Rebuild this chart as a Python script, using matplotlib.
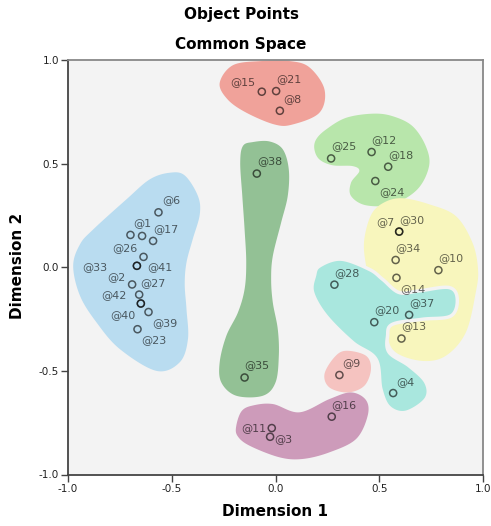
import numpy as np
import matplotlib
matplotlib.use("Agg")
import matplotlib.pyplot as plt
from matplotlib.patches import Polygon

plt.rcParams['axes.unicode_minus'] = False
plt.rcParams['font.family'] = ['DejaVu Sans']

# ---------------- data ----------------
labels = ['@15', '@21', '@8', '@38', '@35', '@25', '@12', '@18', '@24',
          '@30', '@7', '@34', '@10', '@14', '@13', '@28', '@20', '@37', '@4',
          '@9', '@16', '@11', '@3',
          '@6', '@1', '', '@17', '@26', '@33', '@41', '@2', '@27', '@42', '@40',
          '@39', '@23']
dim1 = [-0.066, 0.003, 0.021, -0.090, -0.149, 0.268, 0.463, 0.543, 0.481,
        0.596, 0.596, 0.579, 0.785, 0.583, 0.607, 0.284, 0.476, 0.644, 0.567,
        0.308, 0.271, -0.018, -0.026,
        -0.564, -0.699, -0.643, -0.590, -0.636, -0.668, -0.668, -0.691, -0.657,
        -0.649, -0.649, -0.612, -0.665]
dim2 = [0.847, 0.850, 0.755, 0.452, -0.532, 0.525, 0.556, 0.485, 0.416,
        0.172, 0.172, 0.035, -0.014, -0.051, -0.344, -0.084, -0.265, -0.230, -0.607,
        -0.520, -0.721, -0.776, -0.818,
        0.265, 0.156, 0.151, 0.127, 0.050, 0.007, 0.007, -0.083, -0.132,
        -0.175, -0.175, -0.216, -0.299]

# label placement (pixel offsets, alignment)
label_dx = [-6, 0, 3, 0, 0, 0, 0, 0, 4,
            0, -5, 0, 0, 4, 0, 0, 0, 0, 3,
            3, 0, -5, 4,
            4, 3, 0, 0, -6, -30, 10, -7, 1, -14, -5,
            4, 4]
label_dy = [10, 12, 12, 12, 12, 12, 12, 12, -11,
            12, 10, 12, 12, -11, 12, 12, 12, 12, 11,
            12, 12, 0, -2,
            12, 12, 0, 12, 9, -1, -1, 7, 12, 8, -12,
            -11, -11]
label_ha = ['right', 'left', 'left', 'left', 'left', 'left', 'left', 'left', 'left',
            'left', 'right', 'left', 'left', 'left', 'left', 'left', 'left', 'left', 'left',
            'left', 'left', 'right', 'left',
            'left', 'left', 'left', 'left', 'right', 'right', 'left', 'right', 'left',
            'right', 'right', 'left', 'left']

# cluster outlines (data coordinates)
blob_blue = [(-0.510, 0.456), (-0.4375, 0.443), (-0.374, 0.344), (-0.365, 0.255),
             (-0.399, 0.135), (-0.429, 0.023), (-0.4375, -0.082), (-0.429, -0.202),
             (-0.422, -0.347), (-0.462, -0.459), (-0.574, -0.500), (-0.75, -0.395),
             (-0.862, -0.267), (-0.942, -0.138), (-0.975, 0.006), (-0.942, 0.111),
             (-0.878, 0.183), (-0.718, 0.328), (-0.606, 0.424)]
blob_red = [(-0.269, 0.889), (-0.205, 0.975), (-0.067, 0.995), (0.067, 0.995),
            (0.163, 0.965), (0.236, 0.858), (0.212, 0.746), (0.083, 0.689),
            (-0.005, 0.689), (-0.141, 0.746), (-0.231, 0.810)]
blob_ltgreen = [(0.1875, 0.569), (0.212, 0.520), (0.276, 0.492), (0.372, 0.488),
                (0.404, 0.464), (0.364, 0.408), (0.364, 0.344), (0.436, 0.299),
                (0.564, 0.304), (0.684, 0.376), (0.740, 0.488), (0.724, 0.585),
                (0.660, 0.681), (0.564, 0.729), (0.468, 0.741), (0.340, 0.721),
                (0.244, 0.665), (0.196, 0.617)]
blob_dkgreen = [(-0.109, 0.604), (-0.029, 0.607), (0.035, 0.569), (0.064, 0.472),
                (0.059, 0.344), (0.027, 0.215), (-0.013, 0.054), (-0.021, -0.058),
                (-0.013, -0.170), (0.011, -0.299), (0.016, -0.427), (0.0, -0.556),
                (-0.061, -0.620), (-0.189, -0.620), (-0.261, -0.556), (-0.269, -0.459),
                (-0.237, -0.331), (-0.181, -0.218), (-0.149, -0.106), (-0.141, 0.023),
                (-0.149, 0.183), (-0.160, 0.344), (-0.170, 0.505), (-0.157, 0.585)]
blob_yellow = [(0.611, 0.333), (0.740, 0.304), (0.869, 0.247), (0.949, 0.119),
               (0.976, -0.010), (0.965, -0.122), (0.917, -0.315), (0.821, -0.427),
               (0.708, -0.452), (0.580, -0.411), (0.538, -0.323), (0.524, -0.154),
               (0.462, -0.082), (0.433, 0.029), (0.428, 0.135), (0.462, 0.255),
               (0.524, 0.313)]
blob_cyan = [(0.212, 0.006), (0.316, 0.039), (0.452, -0.010), (0.516, -0.058),
             (0.596, -0.122), (0.692, -0.114), (0.837, -0.098), (0.876, -0.154),
             (0.845, -0.235), (0.708, -0.251), (0.564, -0.275), (0.540, -0.331),
             (0.548, -0.411), (0.644, -0.476), (0.725, -0.556), (0.725, -0.636),
             (0.628, -0.700), (0.548, -0.676), (0.508, -0.588), (0.484, -0.443),
             (0.372, -0.363), (0.244, -0.235), (0.179, -0.122), (0.1875, -0.042)]
blob_pink = [(0.236, -0.516), (0.284, -0.434), (0.340, -0.403), (0.436, -0.427),
             (0.460, -0.492), (0.428, -0.572), (0.348, -0.604), (0.260, -0.580)]
blob_purple = [(-0.189, -0.765), (-0.163, -0.694), (-0.109, -0.667), (-0.013, -0.660),
               (0.115, -0.700), (0.260, -0.636), (0.364, -0.604), (0.436, -0.641),
               (0.444, -0.717), (0.388, -0.829), (0.260, -0.893), (0.131, -0.925),
               (0.019, -0.917), (-0.125, -0.861), (-0.183, -0.814)]

ticks = [-1.0, -0.5, 0.0, 0.5, 1.0]
tick_labels = ['-1.0', '-0.5', '0.0', '0.5', '1.0']

BG = '#f3f3f3'
blobs = [
    (blob_blue, '#b9dcf0'),
    (blob_red, '#f0a29a'),
    (blob_ltgreen, '#b8e6ab'),
    (blob_dkgreen, '#93c195'),
    (blob_yellow, '#f8f6bd'),
    (blob_cyan, '#a9e7de'),
    (blob_pink, '#f5c3c0'),
    (blob_purple, '#cd9bba'),
]


def smooth_closed(pts, n=24):
    p = np.asarray(pts, dtype=float)
    m = len(p)
    out = []
    t = np.linspace(0, 1, n, endpoint=False)[:, None]
    for i in range(m):
        p0, p1, p2, p3 = p[(i - 1) % m], p[i], p[(i + 1) % m], p[(i + 2) % m]
        seg = 0.5 * ((2 * p1) + (-p0 + p2) * t +
                     (2 * p0 - 5 * p1 + 4 * p2 - p3) * t ** 2 +
                     (-p0 + 3 * p1 - 3 * p2 + p3) * t ** 3)
        out.append(seg)
    return np.vstack(out)


fig = plt.figure(figsize=(4.91, 5.26), dpi=100)
ax = fig.add_axes([68 / 491, 1 - 474.5 / 526, (483 - 68) / 491, (474.5 - 60) / 526])
ax.set_facecolor(BG)

for outline, col in blobs:
    edge = BG if outline is blob_cyan else 'none'
    lw = 2.5 if outline is blob_cyan else 0
    ax.add_patch(Polygon(smooth_closed(outline), closed=True, facecolor=col,
                         edgecolor=edge, linewidth=lw, zorder=1))

ax.scatter(dim1, dim2, s=26, facecolors='none', edgecolors=(0, 0, 0, 0.6),
           linewidths=1.1, zorder=3)
for lab, x, y, dx, dy, ha in zip(labels, dim1, dim2, label_dx, label_dy, label_ha):
    if lab:
        ax.annotate(lab, (x, y), xytext=(dx, dy), textcoords='offset pixels',
                    ha=ha, va='center', fontsize=8, color=(0, 0, 0, 0.6), zorder=4)

ax.set_xlim(-1, 1)
ax.set_ylim(-1, 1)
ax.set_xticks(ticks)
ax.set_xticklabels(tick_labels)
ax.set_yticks(ticks)
ax.set_yticklabels(tick_labels)
ax.tick_params(direction='out', length=5, width=1, labelsize=7.5, pad=1.5,
               color='#444444', labelcolor='#222222')
for s in ['left', 'bottom']:
    ax.spines[s].set_color('#444444')
    ax.spines[s].set_linewidth(1.3)
for s in ['top', 'right']:
    ax.spines[s].set_color('#888888')
    ax.spines[s].set_linewidth(1.3)

fig.text(241 / 491, 1 - 15 / 526, 'Object Points', ha='center', va='center',
         fontsize=11, fontweight='bold')
fig.text(241 / 491, 1 - 45 / 526, 'Common Space', ha='center', va='center',
         fontsize=11, fontweight='bold')
fig.text(275 / 491, 1 - 512 / 526, 'Dimension 1', ha='center', va='center',
         fontsize=11, fontweight='bold')
fig.text(18 / 491, 1 - 266 / 526, 'Dimension 2', ha='center', va='center',
         fontsize=11, fontweight='bold', rotation=90)

fig.savefig('out.png', dpi=100, facecolor='white')
